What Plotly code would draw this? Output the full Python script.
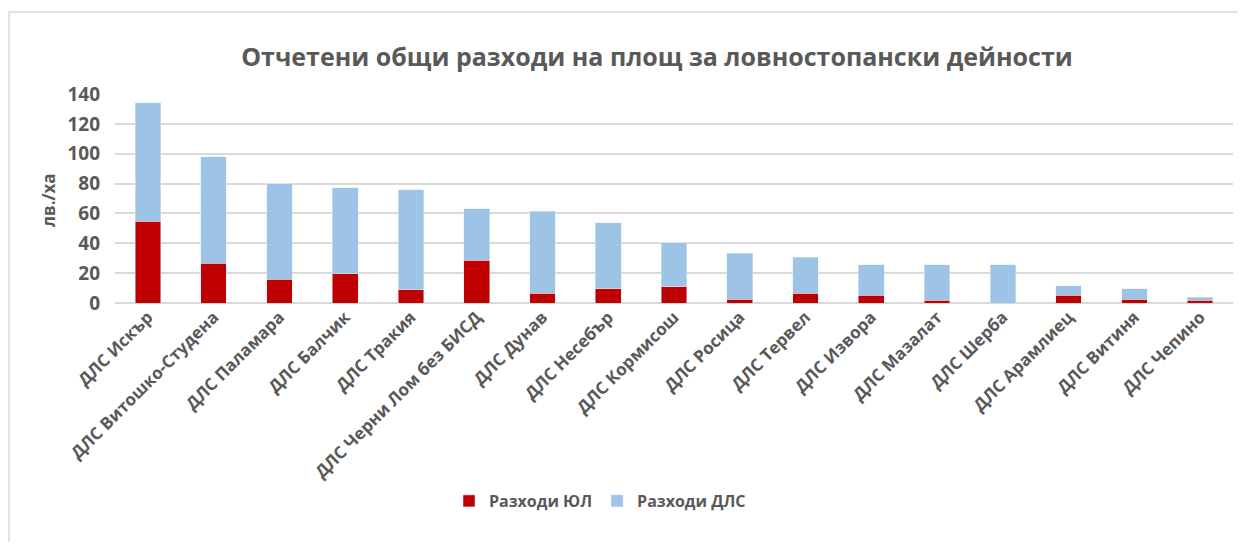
import plotly.graph_objects as go

categories = ["ДЛС Искър", "ДЛС Витошко-Студена", "ДЛС Паламара", "ДЛС Балчик", "ДЛС Тракия",
              "ДЛС Черни Лом без БИСД", "ДЛС Дунав", "ДЛС Несебър", "ДЛС Кормисош", "ДЛС Росица",
              "ДЛС Тервел", "ДЛС Извора", "ДЛС Мазалат", "ДЛС Шерба", "ДЛС Арамлиец",
              "ДЛС Витиня", "ДЛС Чепино"]
razhodi_yul = [54.6, 26.5, 16.0, 19.6, 8.9, 28.5, 6.7, 9.6, 10.9, 2.5, 6.7, 5.3, 1.8, 0.0, 5.3, 2.5, 1.8]
razhodi_dls = [79.6, 71.6, 63.8, 57.5, 66.9, 34.6, 54.8, 44.1, 29.4, 30.9, 23.8, 20.3, 23.8, 25.6, 6.3, 6.9, 2.0]
y_ticks = [0, 20, 40, 60, 80, 100, 120, 140]

FONT = "Open Sans"
GRAY = "#595959"

fig = go.Figure()
fig.add_trace(go.Bar(x=categories, y=razhodi_yul, name="Разходи ЮЛ", marker_color="#C00000"))
fig.add_trace(go.Bar(x=categories, y=razhodi_dls, name="Разходи ДЛС", marker_color="#9DC3E6"))

# page body has an 8px margin: screen = figure + 8
OFF = 8
W, H = 1230, 534
# plot area in screen pixels
SX0, SX1, SY0, SY1 = 115, 1233, 94, 303
L, T = SX0 - OFF, SY0 - OFF
R, B = W - (SX1 - OFF), H - (SY1 - OFF)
pw, ph = SX1 - SX0, SY1 - SY0

def px(sx):
    return (sx - SX0) / pw

def py(sy):
    return (SY1 - sy) / ph

fig.update_layout(
    width=W, height=H,
    margin=dict(l=L, r=R, t=T, b=B, autoexpand=False),
    barmode="stack",
    bargap=0.61,
    plot_bgcolor="white",
    paper_bgcolor="white",
    font=dict(family=FONT, color=GRAY),
    title=dict(text="Отчетени общи разходи на площ за ловностопански дейности",
               x=(657 - OFF) / W, xanchor="center", xref="container",
               y=1 - (57 - OFF) / H, yanchor="middle", yref="container",
               font=dict(family=FONT, size=25, color=GRAY, weight="bold")),
    legend=dict(orientation="h", x=px(600), xanchor="center", y=py(501), yanchor="middle",
                font=dict(family=FONT, size=16, color=GRAY, weight="bold"),
                traceorder="normal", itemwidth=30),
    xaxis=dict(tickangle=-45, showgrid=False, showline=False, ticks="", automargin=False,
               tickfont=dict(family=FONT, size=17, color=GRAY, weight="bold")),
    yaxis=dict(range=[0, 140], tickvals=y_ticks, showgrid=True, gridcolor="#d9d9d9",
               gridwidth=1.5, zeroline=True, zerolinecolor="#d9d9d9", zerolinewidth=1.5,
               showline=False, ticks="", ticklabelstandoff=14, automargin=False,
               tickfont=dict(family=FONT, size=19, color=GRAY, weight="bold")),
    showlegend=True,
)

fig.add_annotation(text="лв./ха", xref="paper", yref="paper", x=px(48), y=py(200),
                   textangle=-90, showarrow=False, xanchor="center", yanchor="middle",
                   font=dict(family=FONT, size=17, color=GRAY, weight="bold"))

fig.add_shape(type="rect", xref="paper", yref="paper",
              x0=px(9), x1=px(1260), y0=py(560), y1=py(12),
              line=dict(color="#d9d9d9", width=1.5), fillcolor="rgba(0,0,0,0)", layer="below")

fig.write_html("out.html")
